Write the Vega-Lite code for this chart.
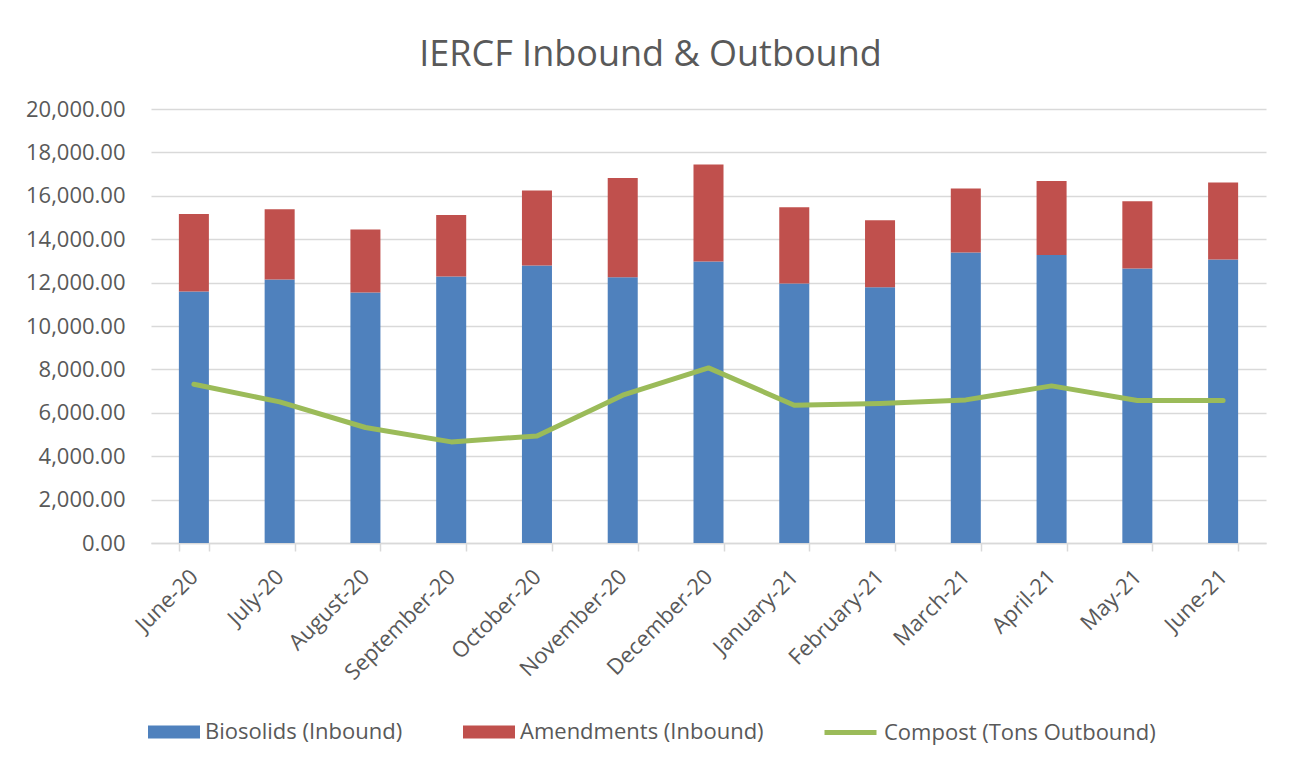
{
  "$schema": "https://vega.github.io/schema/vega-lite/v6.json",
  "width": 1115,
  "height": 434,
  "autosize": {"type": "none"},
  "padding": {"left": 151, "top": 109, "right": 27, "bottom": 224},
  "background": "white",
  "title": {"text": "IERCF Inbound & Outbound", "fontSize": 36, "font": "Open Sans", "fontWeight": "normal", "color": "#595959", "anchor": "middle", "dx": -58, "offset": 24},
  "data": {"values": [
    {"Month": "June-20", "Biosolids (Inbound)": 11590, "Amendments (Inbound)": 3576, "Compost (Tons Outbound)": 7318},
    {"Month": "July-20", "Biosolids (Inbound)": 12143, "Amendments (Inbound)": 3239, "Compost (Tons Outbound)": 6502},
    {"Month": "August-20", "Biosolids (Inbound)": 11544, "Amendments (Inbound)": 2903, "Compost (Tons Outbound)": 5323},
    {"Month": "September-20", "Biosolids (Inbound)": 12281, "Amendments (Inbound)": 2839, "Compost (Tons Outbound)": 4659},
    {"Month": "October-20", "Biosolids (Inbound)": 12788, "Amendments (Inbound)": 3456, "Compost (Tons Outbound)": 4935},
    {"Month": "November-20", "Biosolids (Inbound)": 12249, "Amendments (Inbound)": 4576, "Compost (Tons Outbound)": 6811},
    {"Month": "December-20", "Biosolids (Inbound)": 12972, "Amendments (Inbound)": 4470, "Compost (Tons Outbound)": 8069},
    {"Month": "January-21", "Biosolids (Inbound)": 11959, "Amendments (Inbound)": 3516, "Compost (Tons Outbound)": 6350},
    {"Month": "February-21", "Biosolids (Inbound)": 11788, "Amendments (Inbound)": 3088, "Compost (Tons Outbound)": 6429},
    {"Month": "March-21", "Biosolids (Inbound)": 13387, "Amendments (Inbound)": 2949, "Compost (Tons Outbound)": 6595},
    {"Month": "April-21", "Biosolids (Inbound)": 13277, "Amendments (Inbound)": 3410, "Compost (Tons Outbound)": 7240},
    {"Month": "May-21", "Biosolids (Inbound)": 12650, "Amendments (Inbound)": 3101, "Compost (Tons Outbound)": 6567},
    {"Month": "June-21", "Biosolids (Inbound)": 13065, "Amendments (Inbound)": 3548, "Compost (Tons Outbound)": 6567}
  ]},
  "encoding": {
    "x": {
      "field": "Month", "type": "nominal", "sort": null,
      "scale": {"paddingInner": 0.65, "paddingOuter": 0.325},
      "axis": {"title": null, "labelAngle": -45, "labelAlign": "right", "labelBaseline": "middle", "labelFontSize": 22, "labelColor": "#595959", "labelFont": "Open Sans", "domainColor": "#d9d9d9", "domainWidth": 1.5, "tickColor": "#d9d9d9", "tickWidth": 1.5, "tickBand": "extent", "tickSize": 8, "labelPadding": 22, "grid": false}
    }
  },
  "layer": [
    {
      "transform": [{"fold": ["Biosolids (Inbound)", "Amendments (Inbound)"], "as": ["Series", "Tons"]}],
      "mark": {"type": "bar"},
      "encoding": {
        "y": {"field": "Tons", "type": "quantitative", "stack": "zero", "scale": {"domain": [0, 20000]},
          "axis": {"title": null, "format": ",.2f", "values": [0, 2000, 4000, 6000, 8000, 10000, 12000, 14000, 16000, 18000, 20000], "grid": true, "gridColor": "#d9d9d9", "gridWidth": 1.5, "domain": false, "ticks": false, "labelFontSize": 22, "labelColor": "#595959", "labelFont": "Open Sans", "labelPadding": 26}},
        "color": {"field": "Series", "type": "nominal",
          "scale": {"domain": ["Biosolids (Inbound)", "Amendments (Inbound)"], "range": ["#4f81bd", "#c0504d"]},
          "legend": {"orient": "none", "legendX": -3, "legendY": 597, "direction": "horizontal", "title": null, "symbolType": "M-1,-0.25H1V0.25H-1Z", "symbolSize": 2704, "symbolStrokeWidth": 0, "labelFontSize": 22, "labelColor": "#595959", "labelFont": "Open Sans", "labelOffset": 5, "labelLimit": 0, "columnPadding": 60, "padding": 0}},
        "order": {"field": "Series", "sort": "descending"}
      }
    },
    {
      "mark": {"type": "line", "strokeWidth": 5, "strokeCap": "round", "strokeJoin": "round"},
      "encoding": {
        "y": {"field": "Compost (Tons Outbound)", "type": "quantitative", "axis": {"title": null}},
        "stroke": {"datum": "Compost (Tons Outbound)", "type": "nominal", "scale": {"range": ["#9bbb59"]},
          "legend": {"orient": "none", "legendX": 671, "legendY": 595, "direction": "horizontal", "title": null, "symbolType": "stroke", "symbolSize": 2704, "symbolStrokeWidth": 5, "labelFontSize": 22, "labelColor": "#595959", "labelFont": "Open Sans", "labelOffset": 5, "labelLimit": 0, "padding": 0}}
      }
    }
  ],
  "config": {"view": {"stroke": null}, "font": "Open Sans"}
}
